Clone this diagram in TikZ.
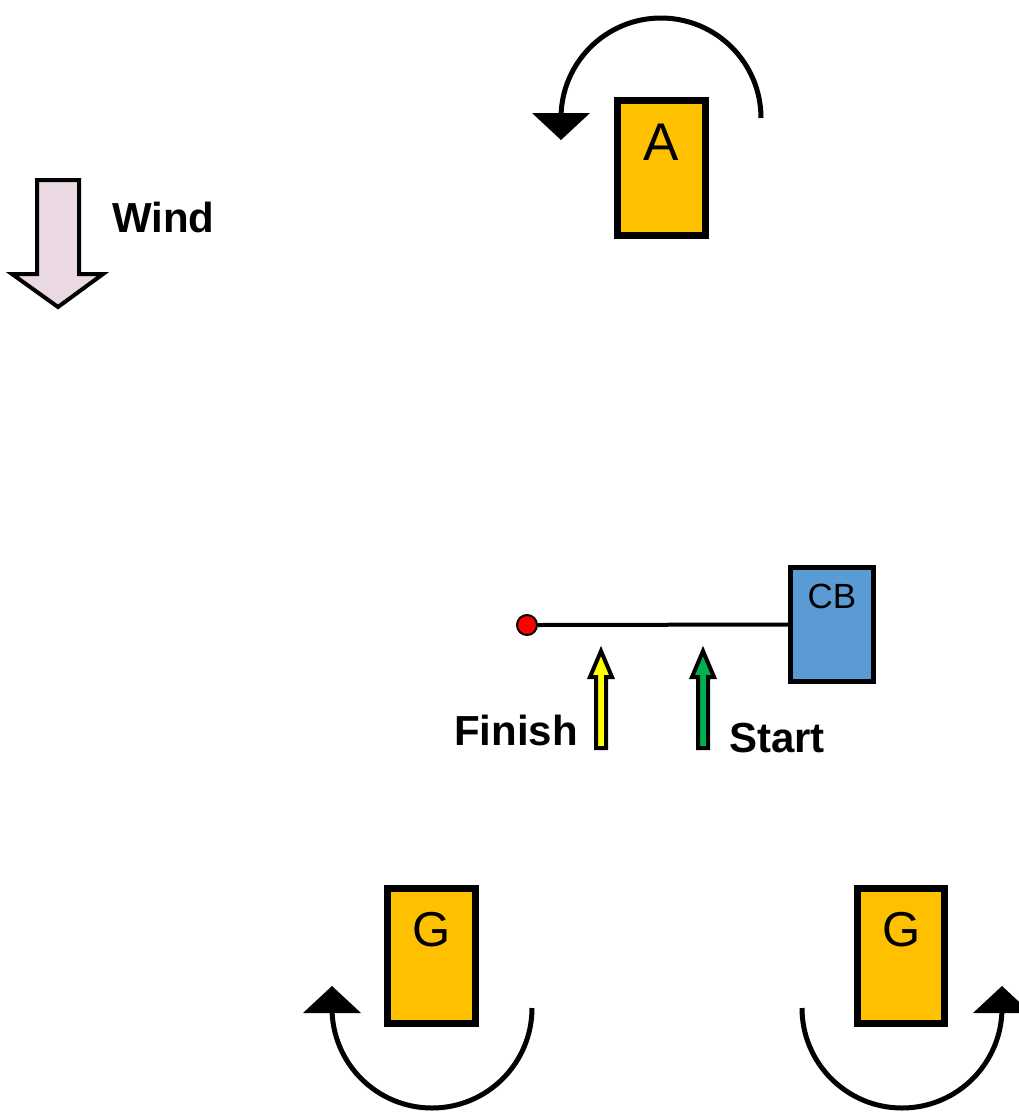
\documentclass[tikz,border=0pt]{standalone}
\usepackage{fontspec}
\setmainfont{Liberation Sans}
\definecolor{boxorange}{HTML}{FFC000}
\definecolor{cbblue}{HTML}{5B9BD5}
\definecolor{windpink}{HTML}{EAD8E3}
\definecolor{startgreen}{HTML}{00B050}
\definecolor{finyellow}{HTML}{FFFF00}
\begin{document}
\begin{tikzpicture}[x=1pt,y=-1pt,
  markbox/.style={draw=black, line width=7, fill=boxorange, minimum width=88, minimum height=135, inner sep=0},
  cbbox/.style={draw=black, line width=5, fill=cbblue, minimum width=83, minimum height=114, inner sep=0},
  turn/.style={draw=black, line width=5},
  tiptri/.style={fill=black},
  blockarrow/.style={draw=black, line width=4, line join=miter},
  boldlabel/.style={font=\fontsize{42}{42}\selectfont\bfseries, inner sep=0},
  boxlabel/.style={inner sep=0, anchor=base}]
\useasboundingbox (0,0) rectangle (1019,1112);
\fill[white] (0,0) rectangle (1019,1112);

% Wind arrow
\filldraw[blockarrow, fill=windpink] (37,180) -- (79,180) -- (79,274) -- (103,274) -- (58,307) -- (12,274) -- (37,274) -- cycle;
\node[boldlabel, anchor=base west] (wind) at (112,232) {Wind};

% Mark A and its turning arc
\node[markbox] (A) at (661.5,168) {};
\node[boxlabel, font=\fontsize{53}{53}\selectfont] (Alab) at (661.5,160) {A};
\draw[turn] (761,118) arc[start angle=0, end angle=180, radius=100pt];
\fill[tiptri] (532,113) -- (590,113) -- (561,140) -- cycle;

% Committee boat and line
\node[cbbox] (cb) at (832,624.5) {};
\node[boxlabel, font=\fontsize{35}{35}\selectfont] (cblab) at (832,608) {CB};
\node[circle, draw=black, line width=2, fill=red, minimum size=20, inner sep=0] (pin) at (527,625) {};
\draw[line width=4] (pin.east) -- (cb.west);

% Finish and start arrows
\filldraw[blockarrow, fill=finyellow, line width=4] (596,748) -- (596,677) -- (590,677) -- (601,651) -- (612,677) -- (606,677) -- (606,748) -- cycle;
\filldraw[blockarrow, fill=startgreen, line width=4] (698,748) -- (698,677) -- (692,677) -- (703,651) -- (714,677) -- (708,677) -- (708,748) -- cycle;
\node[boldlabel, anchor=base east] (finish) at (578,745) {Finish};
\node[boldlabel, anchor=base west] (start) at (729,752) {Start};

% Gate marks
\node[markbox] (G1) at (431.5,956) {};
\node[boxlabel, font=\fontsize{49}{49}\selectfont] (G1lab) at (432,946) {G};
\draw[turn] (532,1008) arc[start angle=0, end angle=-180, radius=100pt];
\fill[tiptri] (303,1013) -- (361,1013) -- (332,986) -- cycle;

\node[markbox, minimum width=87] (G2) at (901,956) {};
\node[boxlabel, font=\fontsize{49}{49}\selectfont] (G2lab) at (902,946) {G};
\draw[turn] (802,1008) arc[start angle=180, end angle=360, radius=100pt];
\fill[tiptri] (973,1013) -- (1031,1013) -- (1002,986) -- cycle;
\end{tikzpicture}
\end{document}
